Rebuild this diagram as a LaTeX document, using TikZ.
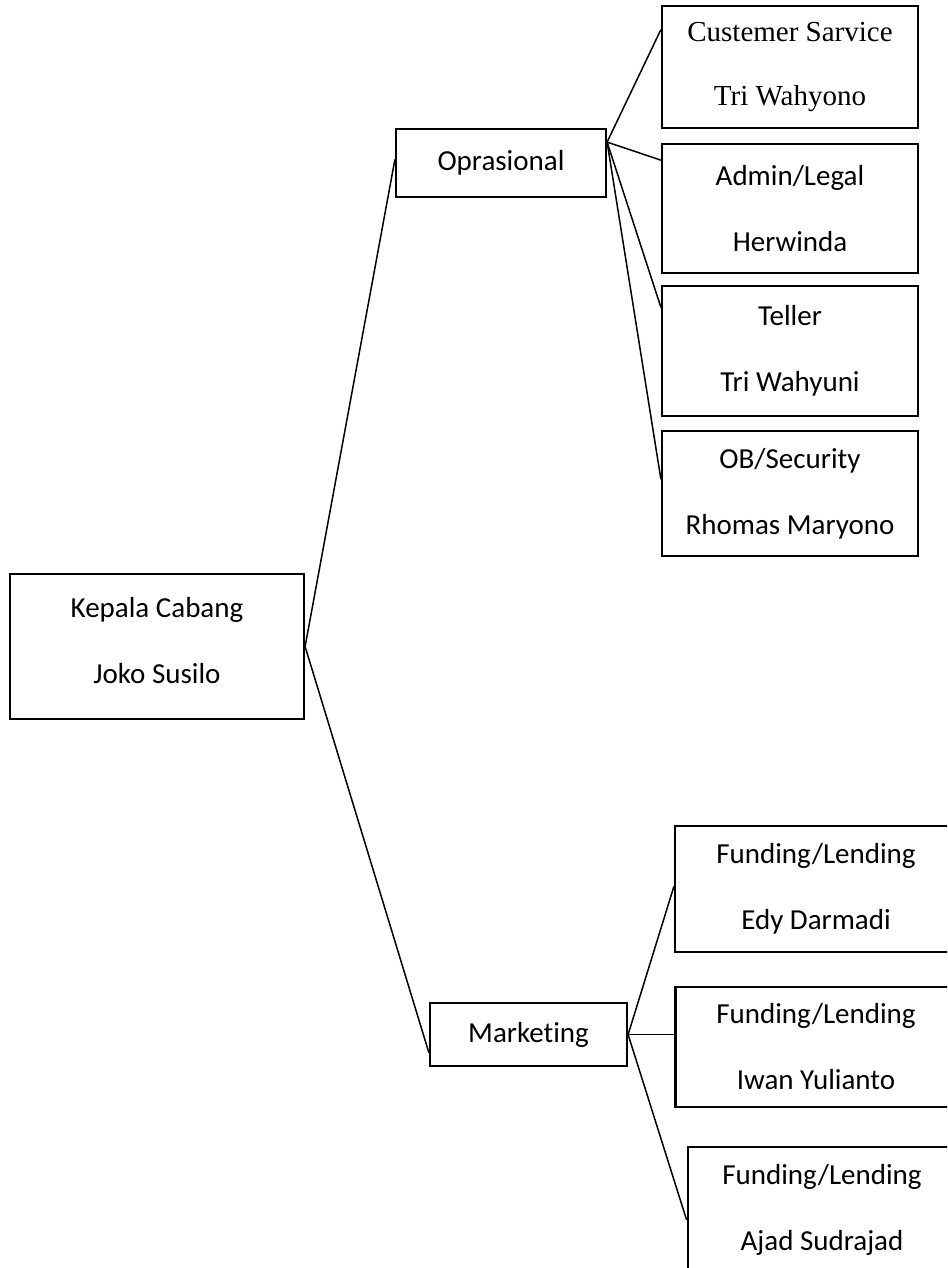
\documentclass[tikz,border=0pt]{standalone}
\usepackage{fontspec}
\setmainfont{Carlito}[Ligatures=NoCommon]
\newfontfamily\timesfont{Liberation Serif}
\usetikzlibrary{calc}

\tikzset{
    unit/.style={draw, line width=2.2pt, align=center, inner sep=0pt,
        font=\fontsize{29}{66}\selectfont},
    link/.style={line width=1.5pt},
}

\begin{document}
\begin{tikzpicture}[x=1pt, y=-1pt]
        \useasboundingbox (0,0) rectangle (947,1268);
        \clip (0,0) rectangle (947,1268);

        % Pimpinan
        \node[unit, minimum width=294pt, minimum height=145pt, text depth=12pt] (kc) at (157,646.5) {Kepala Cabang\\Joko Susilo};

        % Bagian
        \node[unit, minimum width=210pt, minimum height=67.5pt] (ops) at (501,163)    {Oprasional};
        \node[unit, minimum width=197pt, minimum height=63pt]   (mkt) at (528.5,1034.5) {Marketing};

        % Staf oprasional
        \node[unit, minimum width=256pt, minimum height=122.5pt, font=\timesfont\fontsize{29}{64}\selectfont] (cs) at (790,67) {Custemer Sarvice\\Tri Wahyono};
        \node[unit, minimum width=256pt, minimum height=128.5pt] (adm) at (790,208.5) {Admin/Legal\\Herwinda};
        \node[unit, minimum width=256pt, minimum height=130pt]   (tel) at (790,351)   {Teller\\Tri Wahyuni};
        \node[unit, minimum width=256pt, minimum height=124.7pt] (ob)  at (790,493.3) {OB/Security\\Rhomas Maryono};

        % Staf marketing
        \node[unit, minimum width=282pt, minimum height=126pt]   (fl1) at (816,889)    {Funding/Lending\\Edy Darmadi};
        \node[unit, minimum width=281pt, minimum height=120pt]   (fl2) at (816,1046.7) {Funding/Lending\\Iwan Yulianto};
        \node[unit, minimum width=268.6pt, minimum height=126pt] (fl3) at (822,1209.7) {Funding/Lending\\Ajad Sudrajad};

        % Garis
        \coordinate (opsR) at ($(ops.north east)!0.2!(ops.south east)$);
        \draw[link] (kc.east) -- ($(ops.north west)!0.45!(ops.south west)$);
        \draw[link] (kc.east) -- ($(mkt.north west)!0.78!(mkt.south west)$);
        \foreach \n/\p in {cs/0.2, adm/0.13, tel/0.17, ob/0.39}
            \draw[link] (opsR) -- ($(\n.north west)!\p!(\n.south west)$);
        \draw[link] (mkt.east) -- ($(fl1.north west)!0.48!(fl1.south west)$);
        \draw[link] (mkt.east) -- (mkt.east -| fl2.west);
        \draw[link] (mkt.east) -- ($(fl3.north west)!0.58!(fl3.south west)$);
    \end{tikzpicture}
\end{document}
